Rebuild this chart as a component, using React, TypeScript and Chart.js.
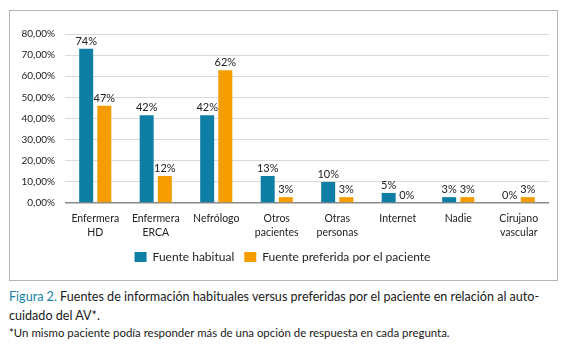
import React, { useEffect, useLayoutEffect, useRef } from "react";
import { Chart, registerables } from "chart.js";

Chart.register(...registerables);

const categories: string[][] = [
  ["Enfermera", "HD"],
  ["Enfermera", "ERCA"],
  ["Nefrólogo"],
  ["Otros", "pacientes"],
  ["Otras", "personas"],
  ["Internet"],
  ["Nadie"],
  ["Cirujano", "vascular"],
];
const habitual = [73, 41.5, 41.5, 12.8, 10, 4.8, 2.8, 0];
const preferida = [46, 12.8, 62.8, 2.8, 2.8, 0, 2.8, 2.8];
const habitualLabels = ["74%", "42%", "42%", "13%", "10%", "5%", "3%", "0%"];
const preferidaLabels = ["47%", "12%", "62%", "3%", "3%", "0%", "3%", "3%"];
const seriesNames = ["Fuente habitual", "Fuente preferida por el paciente"];
const yTicks = [0, 10, 20, 30, 40, 50, 60, 70, 80];

const BLUE = "#0f7ea5";
const ORANGE = "#f49c00";
const FONT = "Lato, 'Noto Sans', sans-serif";

const valueLabels = {
  id: "valueLabels",
  afterDatasetsDraw(chart: any) {
    const ctx = chart.ctx;
    const texts = [habitualLabels, preferidaLabels];
    ctx.save();
    ctx.font = `11px ${FONT}`;
    ctx.fillStyle = "#222";
    ctx.textAlign = "center";
    ctx.textBaseline = "bottom";
    chart.data.datasets.forEach((_ds: any, di: number) => {
      const meta = chart.getDatasetMeta(di);
      meta.data.forEach((bar: any, i: number) => {
        ctx.fillText(texts[di][i], bar.x, bar.y - 2);
      });
    });
    ctx.restore();
  },
};

const legendShift = {
  id: "legendShift",
  afterLayout(chart: any) {
    const l = chart.legend;
    if (l) {
      l.left += 3;
      l.right += 3;
    }
  },
};

function fitWidth(el: HTMLElement | null, target: number) {
  if (!el) return;
  const w = el.getBoundingClientRect().width;
  const fs = parseFloat(getComputedStyle(el).fontSize);
  if (w > 0) el.style.fontSize = (fs * target) / w + "px";
}

export default function App() {
  const ref = useRef<HTMLCanvasElement>(null);
  const line1 = useRef<HTMLSpanElement>(null);
  const line2 = useRef<HTMLSpanElement>(null);
  const foot = useRef<HTMLSpanElement>(null);

  useLayoutEffect(() => {
    fitWidth(line1.current, 531);
    if (line1.current && line2.current) {
      line2.current.style.fontSize = line1.current.style.fontSize;
    }
    fitWidth(foot.current, 441);
  }, []);

  useEffect(() => {
    if (!ref.current) return;
    const chart = new Chart(ref.current, {
      type: "bar",
      data: {
        labels: categories,
        datasets: [
          { label: seriesNames[0], data: habitual, backgroundColor: BLUE },
          { label: seriesNames[1], data: preferida, backgroundColor: ORANGE },
        ],
      },
      plugins: [valueLabels, legendShift],
      options: {
        animation: false,
        responsive: false,
        devicePixelRatio: 1,
        datasets: { bar: { categoryPercentage: 0.6, barPercentage: 0.77 } },
        layout: { padding: { top: 23, right: 8, bottom: 7, left: 0 } },
        plugins: {
          tooltip: { enabled: false },
          legend: {
            position: "bottom",
            labels: {
              boxWidth: 12,
              boxHeight: 10,
              padding: 10,
              color: "#222",
              font: { family: FONT, size: 12 },
            },
          },
        },
        scales: {
          x: {
            grid: { display: false },
            border: { display: false },
            ticks: {
              color: "#222",
              font: { family: FONT, size: 10.5, lineHeight: 1.33 },
              maxRotation: 0,
              autoSkip: false,
              padding: 1,
            },
          },
          y: {
            min: 0,
            max: 80,
            afterBuildTicks: (s: any) => {
              s.ticks = yTicks.map((v) => ({ value: v }));
            },
            afterFit: (s: any) => {
              s.width = 55;
            },
            border: { display: false },
            grid: {
              drawTicks: false,
              color: (c: any) => (c.tick && c.tick.value === 0 ? "#8a8a8a" : "#d9d9d9"),
              lineWidth: (c: any) => (c.tick && c.tick.value === 0 ? 1.5 : 1),
            },
            ticks: {
              padding: 10,
              color: "#222",
              font: { family: FONT, size: 10 },
              callback: (v: any) => Number(v).toFixed(2).replace(".", ",") + "%",
            },
          },
        },
      },
    });
    return () => chart.destroy();
  }, []);

  return (
    <div style={{ position: "relative", height: 335, fontFamily: FONT, overflow: "hidden" }}>
      <div
        style={{
          position: "absolute",
          left: 1,
          top: 2,
          width: 549,
          height: 271,
          boxSizing: "border-box",
          border: "1px solid #b5b5b5",
        }}
      >
        <canvas ref={ref} width={547} height={269} style={{ display: "block" }} />
      </div>
      <div
        style={{
          position: "absolute",
          left: 1,
          top: 278,
          lineHeight: "17px",
          color: "#1a1a1a",
          whiteSpace: "nowrap",
        }}
      >
        <div>
          <span ref={line1} style={{ fontSize: 14 }}>
            <span style={{ color: "#1880a8" }}>Figura 2.</span> Fuentes de información habituales versus preferidas por el paciente en relación al auto-
          </span>
        </div>
        <div>
          <span ref={line2} style={{ fontSize: 14 }}>cuidado del AV*.</span>
        </div>
      </div>
      <div
        style={{
          position: "absolute",
          left: 1,
          top: 316,
          lineHeight: "14px",
          color: "#1a1a1a",
          whiteSpace: "nowrap",
        }}
      >
        <span ref={foot} style={{ fontSize: 11 }}>
          *Un mismo paciente podía responder más de una opción de respuesta en cada pregunta.
        </span>
      </div>
    </div>
  );
}
